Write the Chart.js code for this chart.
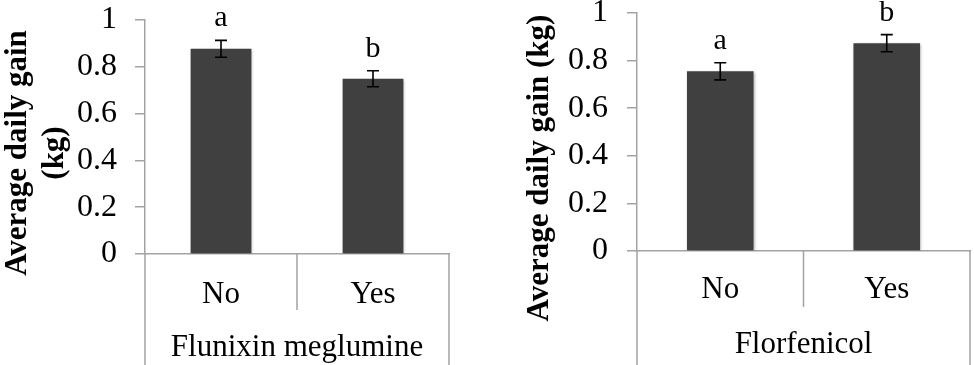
<!DOCTYPE html>
<html>
<head>
<meta charset="utf-8">
<script src="https://cdn.jsdelivr.net/npm/chart.js@4.4.1/dist/chart.umd.min.js"></script>
<style>
  body { margin: 0; background: #fff; }
  .panel { position: absolute; top: 0; height: 365px; }
  #left { left: 0; width: 490px; }
  #right { left: 490px; width: 484px; }
</style>
</head>
<body>
<div class="panel" id="left"><canvas id="flunixin"></canvas></div>
<div class="panel" id="right"><canvas id="florfenicol"></canvas></div>
<script>
const categories = ['No', 'Yes'];

const flunixinMeans = [0.877, 0.749];
const flunixinErrors = [0.036, 0.034];
const flunixinLetters = ['a', 'b'];

const florfenicolMeans = [0.755, 0.873];
const florfenicolErrors = [0.036, 0.036];
const florfenicolLetters = ['a', 'b'];

const yMin = 0, yMax = 1, yStep = 0.2;

const axisColor = '#a3a3a3';
const barColor = '#404040';
const serif = "'Liberation Serif', 'Times New Roman', serif";

// error bars, letters, category box lines and y title
const extrasPlugin = {
  id: 'extras',
  beforeDatasetsDraw(chart) {
    chart.ctx.save();
    chart.ctx.shadowColor = 'rgba(0,0,0,0.35)';
    chart.ctx.shadowBlur = 3;
    chart.ctx.shadowOffsetX = 1;
    chart.ctx.shadowOffsetY = 1;
  },
  afterDatasetsDraw(chart, args, opts) {
    const ctx = chart.ctx;
    ctx.restore();
    const x = chart.scales.x, y = chart.scales.y;
    const meta = chart.getDatasetMeta(0);
    ctx.save();

    // error bars + letters
    ctx.strokeStyle = '#000';
    ctx.lineWidth = 1.6;
    ctx.fillStyle = '#000';
    ctx.font = '30px ' + serif;
    ctx.textAlign = 'center';
    ctx.textBaseline = 'alphabetic';
    meta.data.forEach((bar, i) => {
      const m = opts.means[i], e = opts.errors[i];
      const top = y.getPixelForValue(m + e);
      const bot = y.getPixelForValue(m - e);
      ctx.beginPath();
      ctx.moveTo(bar.x, top); ctx.lineTo(bar.x, bot);
      ctx.moveTo(bar.x - 6, top); ctx.lineTo(bar.x + 6, top);
      ctx.moveTo(bar.x - 6, bot); ctx.lineTo(bar.x + 6, bot);
      ctx.stroke();
      ctx.fillText(opts.letters[i], bar.x, top - 14);
    });

    // category box lines below the axis
    const base = chart.chartArea.bottom;
    ctx.strokeStyle = axisColor;
    ctx.lineWidth = 1.5;
    ctx.beginPath();
    ctx.moveTo(x.left, base); ctx.lineTo(x.left, chart.height);
    ctx.moveTo(x.right, base); ctx.lineTo(x.right, chart.height);
    for (let i = 1; i < categories.length; i++) {
      const mid = (x.getPixelForValue(i - 1) + x.getPixelForValue(i)) / 2;
      ctx.moveTo(mid, base); ctx.lineTo(mid, base + opts.dividerLength);
    }
    ctx.stroke();

    // y axis title
    ctx.fillStyle = '#000';
    ctx.font = 'bold 31px ' + serif;
    ctx.textBaseline = 'middle';
    opts.title.forEach((line, k) => {
      ctx.save();
      ctx.translate(opts.titleX + k * opts.titleGap, opts.titleY);
      ctx.rotate(-Math.PI / 2);
      ctx.fillText(line, 0, 0);
      ctx.restore();
    });
    ctx.restore();
  }
};

function makeChart(id, means, errors, letters, group, lay) {
  return new Chart(document.getElementById(id), {
    type: 'bar',
    data: {
      labels: categories,
      datasets: [{
        data: means,
        backgroundColor: barColor,
        borderWidth: 0,
        categoryPercentage: 0.8,
        barPercentage: 0.5
      }]
    },
    options: {
      responsive: true,
      maintainAspectRatio: false,
      animation: false,
      layout: { padding: { left: 0, top: lay.top, right: lay.right, bottom: 0 } },
      plugins: {
        legend: { display: false },
        tooltip: { enabled: false },
        extras: {
          means: means, errors: errors, letters: letters,
          dividerLength: lay.divider,
          title: lay.title, titleX: lay.titleX, titleY: lay.titleY, titleGap: 37
        }
      },
      scales: {
        y: {
          min: yMin, max: yMax,
          ticks: {
            stepSize: yStep, padding: lay.yPad, color: '#000',
            font: { family: serif, size: 32 },
            callback: v => String(Math.round(v * 10) / 10)
          },
          grid: { drawOnChartArea: false, drawTicks: true, tickLength: 10, color: axisColor, lineWidth: 1.5 },
          border: { color: axisColor, width: 1.5 },
          afterFit(s) { s.width = lay.yWidth; s.paddingTop = 0; s.paddingBottom = 0; }
        },
        x: {
          ticks: { padding: lay.xPad, color: '#000', font: { family: serif, size: 31 } },
          grid: { display: false },
          border: { color: axisColor, width: 1.5 },
          title: {
            display: true, text: group, color: '#000',
            font: { family: serif, size: 31, lineHeight: 1 },
            padding: { top: 0, bottom: lay.groupPad }
          },
          afterFit(s) { s.height = lay.xHeight; s.paddingLeft = 0; s.paddingRight = 0; }
        }
      }
    },
    plugins: [extrasPlugin]
  });
}

makeChart('flunixin', flunixinMeans, flunixinErrors, flunixinLetters, 'Flunixin meglumine', {
  top: 20, right: 41, yWidth: 145, xHeight: 111, yPad: 18, xPad: 14, groupPad: 1.5,
  divider: 56, title: ['Average daily gain', '(kg)'], titleX: 18, titleY: 153
});

makeChart('florfenicol', florfenicolMeans, florfenicolErrors, florfenicolLetters, 'Florfenicol', {
  top: 13, right: 4, yWidth: 147, xHeight: 114, yPad: 19, xPad: 12, groupPad: 4.5,
  divider: 56, title: ['Average daily gain (kg)'], titleX: 50, titleY: 168
});
</script>
</body>
</html>
